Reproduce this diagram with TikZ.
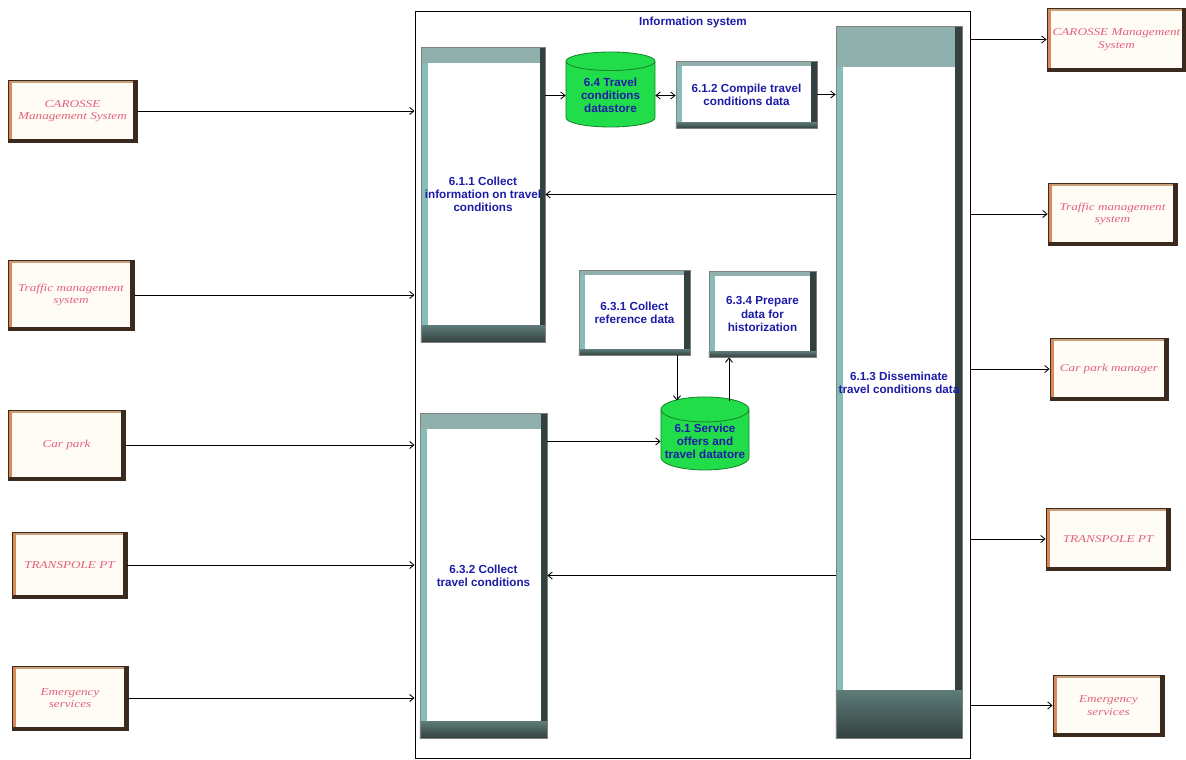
\documentclass[tikz,border=0pt]{standalone}
\usepackage{fontspec}
\usepackage{tikz}
\usetikzlibrary{positioning,shapes.geometric,arrows.meta}

\newfontfamily\procfont{Liberation Sans}
\newfontfamily\extfont[FakeStretch=1.25]{Liberation Serif}

\definecolor{procblue}{HTML}{1C1CA8}
\definecolor{bevtop}{HTML}{8FB0AC}
\definecolor{bevlight}{HTML}{86BDB7}
\definecolor{bevdark}{HTML}{33423F}
\definecolor{bevmid}{HTML}{5E7C79}
\definecolor{extfill}{HTML}{FFFCF6}
\definecolor{extorange}{HTML}{D9895A}
\definecolor{exttan}{HTML}{C9A07A}
\definecolor{extdark}{HTML}{3B2A1E}
\definecolor{extpink}{HTML}{E2607A}
\definecolor{storegreen}{HTML}{22DD4A}

\begin{document}
\begin{tikzpicture}[x=0.025cm, y=-0.025cm, line width=0.6pt,
  >={Straight Barb[length=3pt,width=5pt]},
  every node/.style={align=center},
  proctext/.style={font=\procfont\bfseries\fontsize{8.3}{9.3}\selectfont, text=procblue},
  bevel/.style n args={4}{path picture={
    \fill[bevlight] (path picture bounding box.north west) rectangle ([xshift=#3]path picture bounding box.south west);
    \fill[bevtop] (path picture bounding box.north west) rectangle ([yshift=-#1]path picture bounding box.north east);
    \fill[bevdark] ([xshift=-#4]path picture bounding box.north east) rectangle (path picture bounding box.south east);
    \shade[top color=bevmid, bottom color=bevdark] ([yshift=#2]path picture bounding box.south west) rectangle (path picture bounding box.south east);
  }},
  procbox/.style={draw=black!50, fill=white, inner sep=1pt, proctext},
  store/.style={cylinder, shape border rotate=90, aspect=0.3, draw=storegreen!60!black, fill=storegreen, inner sep=1pt, proctext},
  extbox/.style={draw=extdark, fill=extfill, inner sep=1pt, text=extpink,
    font=\extfont\itshape\fontsize{7.5}{9}\selectfont,
    path picture={
      \fill[exttan] (path picture bounding box.north west) rectangle ([yshift=-0.08cm]path picture bounding box.north east);
      \fill[extorange] (path picture bounding box.north west) rectangle ([xshift=0.09cm]path picture bounding box.south west);
      \fill[extdark] ([xshift=-0.1cm]path picture bounding box.north east) rectangle (path picture bounding box.south east);
      \fill[extdark] ([yshift=0.08cm]path picture bounding box.south west) rectangle (path picture bounding box.south east);
  }}]

\useasboundingbox (0,0) rectangle (1186,760);

% Information system frame
\node (infosys) [draw, minimum width=13.875cm, minimum height=18.65cm, inner sep=0] at (692.5,385) {};
\node (istitle) [proctext] at (693,22) {Information system};

% Processes
\node (p611) [procbox, bevel={0.4cm}{0.42cm}{0.175cm}{0.13cm}, minimum width=3.1cm, minimum height=7.375cm] at (483,194.5) {6.1.1 Collect\\information on travel\\conditions};
\node (p632) [procbox, bevel={0.4cm}{0.42cm}{0.175cm}{0.15cm}, minimum width=3.175cm, minimum height=8.125cm] at (483.5,575.5) {6.3.2 Collect\\travel conditions};
\node (p613) [procbox, bevel={1cm}{1.2cm}{0.175cm}{0.18cm}, minimum width=3.15cm, minimum height=17.775cm] at (899,382.5) {6.1.3 Disseminate\\travel conditions data};
\node (p612) [procbox, bevel={0.12cm}{0.15cm}{0.15cm}{0.15cm}, minimum width=3.525cm, minimum height=1.675cm] at (746.5,94.5) {6.1.2 Compile travel\\conditions data};
\node (p631) [procbox, bevel={0.12cm}{0.15cm}{0.15cm}{0.15cm}, minimum width=2.775cm, minimum height=2.125cm] at (634.5,312.5) {6.3.1 Collect\\reference data};
\node (p634) [procbox, bevel={0.12cm}{0.15cm}{0.15cm}{0.15cm}, minimum width=2.675cm, minimum height=2.15cm] at (762.5,314) {6.3.4 Prepare\\data for\\historization};

% Data stores
\node (ds64) [store, minimum width=2.225cm, minimum height=1.875cm] at (610.5,95.5) {6.4 Travel\\conditions\\datastore};
\node (ds61) [store, minimum width=2.2cm, minimum height=1.825cm] at (705,441.5) {6.1 Service\\offers and\\travel datatore};

% External entities (left)
\node (lcar) [extbox, minimum width=3.225cm, minimum height=1.55cm] at (72.5,111) {CAROSSE\\Management System};
\node (ltraffic) [extbox, minimum width=3.15cm, minimum height=1.75cm] at (71,295) {Traffic management\\system};
\node (lpark) [extbox, minimum width=2.925cm, minimum height=1.75cm] at (66.5,445) {Car park};
\node (lpt) [extbox, minimum width=2.875cm, minimum height=1.65cm] at (69.5,565) {TRANSPOLE PT};
\node (lemerg) [extbox, minimum width=2.9cm, minimum height=1.6cm] at (70,698) {Emergency\\services};

% External entities (right)
\node (rcar) [extbox, minimum width=3.475cm, minimum height=1.575cm] at (1116.5,39.5) {CAROSSE Management\\System};
\node (rtraffic) [extbox, minimum width=3.225cm, minimum height=1.55cm] at (1112.5,214) {Traffic management\\system};
\node (rpark) [extbox, minimum width=2.95cm, minimum height=1.55cm] at (1109,369) {Car park manager};
\node (rpt) [extbox, minimum width=3.1cm, minimum height=1.55cm] at (1108,539) {TRANSPOLE PT};
\node (remerg) [extbox, minimum width=2.775cm, minimum height=1.525cm] at (1108.5,705.5) {Emergency\\services};

% Arrow end points on the data store tops
\coordinate (refin) at ([shift={(-0.7cm,-0.1cm)}]ds61.north);
\coordinate (histout) at ([shift={(0.6cm,-0.1cm)}]ds61.north);

% Arrows into the information system
\draw[->] (lcar.east) -- (lcar.east -| infosys.west);
\draw[->] (ltraffic.east) -- (ltraffic.east -| infosys.west);
\draw[->] (lpark.east) -- (lpark.east -| infosys.west);
\draw[->] (lpt.east) -- (lpt.east -| infosys.west);
\draw[->] (lemerg.east) -- (lemerg.east -| infosys.west);

% Arrows out of the information system
\draw[->] (infosys.east |- rcar.west) -- (rcar.west);
\draw[->] (infosys.east |- rtraffic.west) -- (rtraffic.west);
\draw[->] (infosys.east |- rpark.west) -- (rpark.west);
\draw[->] (infosys.east |- rpt.west) -- (rpt.west);
\draw[->] (infosys.east |- remerg.west) -- (remerg.west);

% Internal flows
\draw[->] (p611.east |- ds64.west) -- (ds64.west);
\draw[<->] (ds64.east) -- (ds64.east -| p612.west);
\draw[->] (p612.east) -- (p612.east -| p613.west);
\draw[->] (p613.west |- p611.east) -- (p611.east);
\draw[->] (p632.east |- ds61.west) -- (ds61.west);
\draw[->] (refin |- p631.south) -- (refin);
\draw[->] (histout) -- (histout |- p634.south);
\draw[->] (p613.west |- p632.east) -- (p632.east);

\end{tikzpicture}
\end{document}
